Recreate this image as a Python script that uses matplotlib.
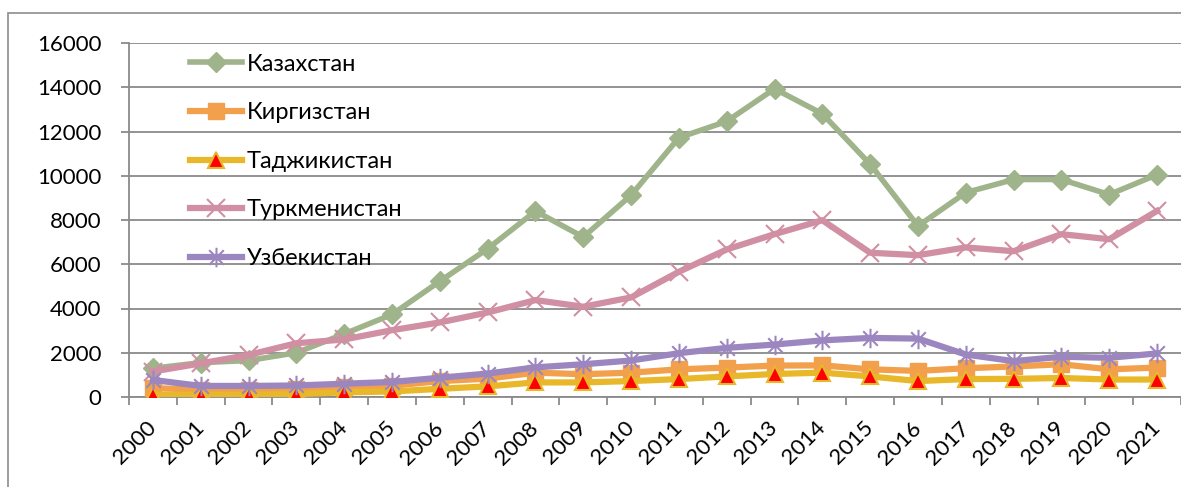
import matplotlib
matplotlib.use("Agg")
import matplotlib.pyplot as plt
from matplotlib.path import Path
from matplotlib.patches import Rectangle

years = [str(y) for y in range(2000, 2022)]
kaz = [1300, 1550, 1650, 2000, 2850, 3730, 5230, 6700, 8400, 7230, 9120,
       11720, 12460, 13930, 12800, 10520, 7730, 9240, 9830, 9830, 9150, 10050]
kyr = [400, 330, 330, 360, 470, 510, 720, 830, 1100, 1030, 1100,
       1250, 1330, 1420, 1430, 1250, 1180, 1300, 1380, 1480, 1250, 1330]
taj = [100, 100, 100, 130, 210, 250, 370, 480, 660, 660, 720,
       810, 930, 1040, 1100, 930, 720, 810, 820, 860, 790, 790]
tkm = [1150, 1520, 1900, 2430, 2600, 3020, 3370, 3820, 4380, 4080, 4500,
       5660, 6670, 7360, 7990, 6520, 6410, 6760, 6590, 7360, 7130, 8410]
uzb = [770, 500, 500, 520, 600, 680, 870, 1060, 1340, 1480, 1650,
       1980, 2220, 2370, 2560, 2670, 2640, 1920, 1620, 1820, 1770, 1970]
names = ["Казахстан", "Киргизстан", "Таджикистан", "Туркменистан", "Узбекистан"]

plt.rcParams['font.family'] = ['Lato', 'DejaVu Sans']

# excel-like asterisk marker: vertical bar + X
star = Path([(0, -1), (0, 1), (-0.75, -0.75), (0.75, 0.75), (-0.75, 0.75), (0.75, -0.75)],
            [Path.MOVETO, Path.LINETO] * 3)

fig = plt.figure(figsize=(11.81, 4.87), dpi=100)
fig.patches.append(Rectangle((8 / 1181, -0.1), 1.2, 1 - 13 / 487 + 0.1,
                             transform=fig.transFigure, fill=False,
                             edgecolor='#8c8c8c', lw=1.2))
ax = fig.add_axes([129 / 1181, 1 - 397 / 487, 1052 / 1181, 354 / 487])

x = list(range(len(years)))
ax.plot(x, kaz, color='#9fb48a', lw=4, marker='D', ms=10, mfc='#9fb48a', mec='#9fb48a',
        label=names[0], zorder=3)
ax.plot(x, kyr, color='#f2a04c', lw=4.5, marker='s', ms=11, mfc='#f2a04c', mec='#f2a04c',
        label=names[1], zorder=3)
ax.plot(x, taj, color='#e8b82a', lw=4.5, marker='^', ms=11, mfc='#ff0000', mec='#e8b82a',
        mew=1.5, label=names[2], zorder=3)
ax.plot(x, tkm, color='#d08fa3', lw=4.5, marker='x', ms=13, mec='#d08fa3', mew=1.5,
        label=names[3], zorder=3)
ax.plot(x, uzb, color='#9b86c0', lw=4.5, marker=star, ms=14, mec='#9b86c0', mew=1.5,
        label=names[4], zorder=3)

ax.set_xlim(-0.5, len(years) - 0.5)
ax.set_ylim(0, 16000)
ax.set_yticks(range(0, 16001, 2000))
ax.yaxis.grid(True, color='#8a8a8a', lw=1.3)
ax.set_axisbelow(True)
for s in ['top', 'right']:
    ax.spines[s].set_visible(False)
for s in ['left', 'bottom']:
    ax.spines[s].set_color('#8a8a8a')
    ax.spines[s].set_linewidth(1.3)

ax.set_xticks(x)
ax.set_xticklabels(years, rotation=45, ha='right', va='center', rotation_mode='anchor')
ax.set_xticks([i - 0.5 for i in range(len(years) + 1)], minor=True)
ax.tick_params(axis='x', which='major', length=0, pad=20, labelsize=16)
ax.tick_params(axis='x', which='minor', length=6, width=1.3, color='#8a8a8a')
ax.tick_params(axis='y', length=6, width=1.3, color='#8a8a8a', pad=14, labelsize=16)

ax.legend(loc='upper left', bbox_to_anchor=(0.058, 0.97), frameon=False, fontsize=17,
          handlelength=2.2, handletextpad=0.2, labelspacing=1.17, borderpad=0,
          borderaxespad=0)

fig.savefig("out.png", dpi=100)
